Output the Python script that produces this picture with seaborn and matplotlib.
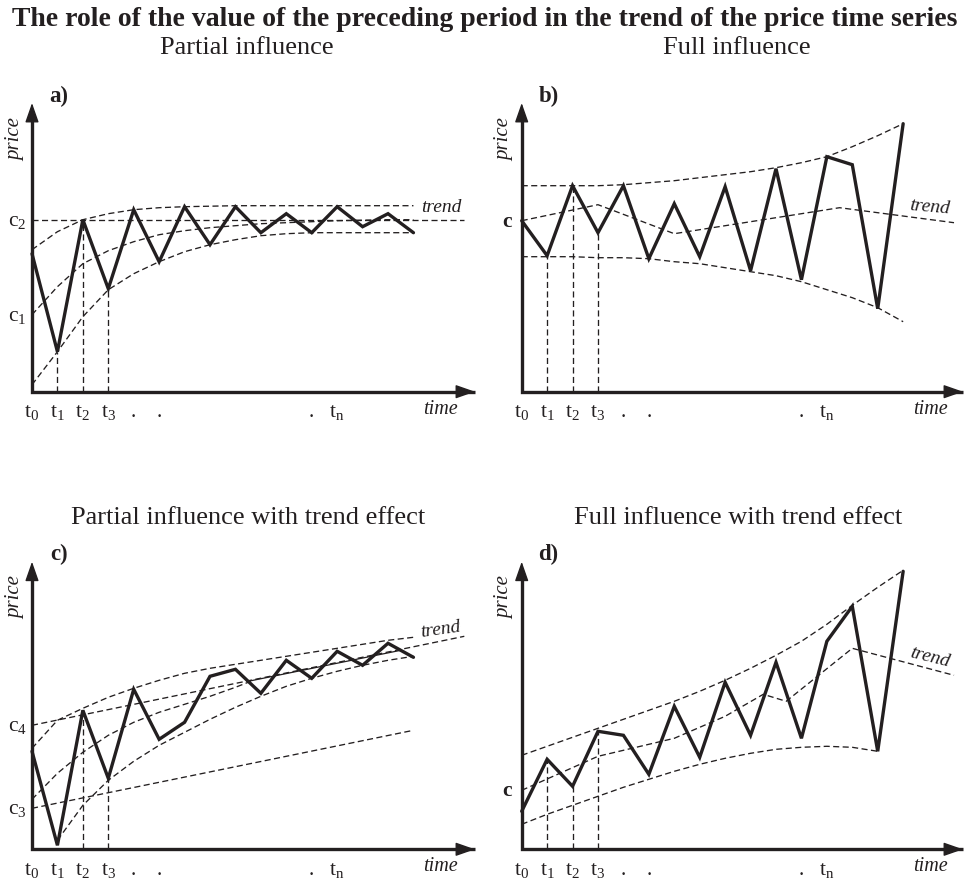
import matplotlib
matplotlib.use("Agg")
import matplotlib.pyplot as plt
import seaborn as sns

# ---------------- data (schematic values) ----------------
steps = list(range(16))                     # t0 ... t15
tick_pos = [0, 1, 2, 3, 4, 5, 11, 12]
tick_lab = ["t$_0$", "t$_1$", "t$_2$", "t$_3$", ".", ".", ".", "t$_\\mathrm{n}$"]

# a) Partial influence
a_price = [138, 40, 172, 103, 182, 130, 185, 147, 185, 159, 178, 159, 185, 165, 178, 159]
a_upper = [142, 160, 172, 178, 182, 184, 185, 185.5, 186, 186, 186, 186, 186, 186, 186, 186]
a_mid = [77, 105, 128, 141, 150, 157, 161, 164, 166, 168, 169, 170, 171, 171.5, 172, 172]
a_lower = [7, 40, 75, 102, 118, 130, 140, 147, 152, 156, 158, 159, 159, 159, 159, 159]
a_level_t = [0, 17]
a_level = [172, 172]
a_guides = [1, 2, 3]

# b) Full influence
b_price = [171, 136, 206, 159, 206, 133, 188, 135, 205, 121, 223, 112, 235, 227, 83, 268]
b_upper = [206, 206, 206, 206, 207, 209, 211, 214, 217, 220, 224, 229, 235, 245, 256, 268]
b_lower = [135, 135, 135, 134, 134, 133, 130, 128, 124, 120, 116, 110, 102, 94, 84, 70]
b_trend_t = [0, 3, 6, 12.5, 17]
b_trend = [171, 187, 158, 184, 169]
b_guides = [1, 2, 3]

# c) Partial influence with trend effect
c_price = [98, 4, 139, 71, 160, 110, 127, 173, 180, 156, 189, 171, 198, 184, 206, 192]
c_upper = [101, 129, 141, 152, 161, 169, 176, 181, 185, 189, 193, 197, 201, 205, 209, 212]
c_lower_t = list(range(1, 16))
c_lower = [9, 44, 69, 88, 104, 117, 130, 142, 153, 163, 171, 178, 184, 189, 193]
c_mid_t = [0, 1, 2, 3, 4, 5, 6, 7, 8, 8.6]
c_mid = [50, 76, 97, 114, 127, 137, 145, 153, 162, 168]
c_trend_t = [0, 17]
c_trend = [124, 213]
c_solid_t = [8.6, 14.5]
c_solid = [168.5, 199]
c_base_t = [0, 15]
c_base = [41, 119]
c_guides = [2, 3]

# d) Full influence with trend effect
d_price = [38, 90, 63, 118, 114, 75, 143, 92, 167, 114, 187, 111, 208, 243, 98, 278]
d_upper = [94, 103, 112, 121, 130, 139, 148, 158, 169, 181, 194, 208, 225, 244, 262, 279]
d_lower_t = list(range(0, 15))
d_lower = [25, 35, 44, 53, 62, 70, 78, 85, 91, 96, 100, 102, 103, 102, 98]
d_trend_t = [0, 3, 6, 8, 9.5, 10.4, 13, 17]
d_trend = [59, 93, 111, 133, 155, 148, 201, 174]
d_guides = [1, 2, 3]

# ---------------- style ----------------
sns.set_style("white")
plt.rcParams["font.family"] = ["Liberation Serif", "DejaVu Serif"]
plt.rcParams["mathtext.fontset"] = "custom"
plt.rcParams["mathtext.rm"] = "Liberation Serif"
plt.rcParams["mathtext.it"] = "Liberation Serif:italic"
plt.rcParams["mathtext.bf"] = "Liberation Serif:bold"

INK = "#231f20"
W, H = 969, 882
STEP = 25.43
DASH = (0, (4.6, 2.6))

fig = plt.figure(figsize=(W / 100, H / 100), dpi=100)
fig.patch.set_facecolor("white")


def make_ax(ox, oy, right, top):
    ax = fig.add_axes([ox / W, 1 - oy / H, (right - ox) / W, (oy - top) / H])
    ax.set_xlim(0, (right - ox) / STEP)
    ax.set_ylim(0, oy - top)
    ax.axis("off")
    ax.plot([0, 0, 1], [0.965, 0, 0], transform=ax.transAxes, color=INK, lw=2.4,
            solid_joinstyle="miter", solid_capstyle="butt", clip_on=False)
    hs = "-|>,head_length=1.0,head_width=0.35"
    ax.annotate("", xy=(0, 1), xytext=(0, 0.94), xycoords="axes fraction",
                arrowprops=dict(arrowstyle=hs, lw=1.0, color=INK, shrinkA=0, shrinkB=0,
                                mutation_scale=12))
    ax.annotate("", xy=(1, 0), xytext=(0.94, 0), xycoords="axes fraction",
                arrowprops=dict(arrowstyle=hs, lw=1.0, color=INK, shrinkA=0, shrinkB=0,
                                mutation_scale=12))
    return ax


def draw(ax, x, y, kind):
    if kind == "solid":
        kw = dict(linewidth=2.4, linestyle="-")
    elif kind == "thin":
        kw = dict(linewidth=0.9, linestyle="-")
    else:
        kw = dict(linewidth=0.95, linestyle=DASH)
    sns.lineplot(x=x, y=y, ax=ax, color=INK, sort=False, estimator=None,
                 clip_on=False, legend=False, solid_joinstyle="miter", **kw)


def guides(ax, idx, price):
    for i in idx:
        ax.vlines(i, 0, price[i], colors=INK, linewidth=0.95, linestyles=DASH)


def labels(ax, letter, trend_xy, trend_rot, levels):
    for p, s in zip(tick_pos, tick_lab):
        ax.text(p, -25.5, s, ha="center", va="baseline", fontsize=15.5, color=INK,
                clip_on=False)
    ax.text(16.08, -22, "time", ha="center", va="baseline", fontsize=14.5,
            style="italic", color=INK, clip_on=False)
    ax.text(-16.5 / STEP, 252, "price", rotation=90, ha="center", va="center",
            fontsize=15, style="italic", color=INK, clip_on=False)
    ax.text(1.05, 295, letter, ha="center", va="center", fontsize=16.5,
            weight="bold", color=INK, clip_on=False)
    ax.text(trend_xy[0], trend_xy[1], "trend", ha="center", va="center",
            rotation=trend_rot, fontsize=14, style="italic", color=INK, clip_on=False)
    for lev, s, bold in levels:
        ax.text(-14.5 / STEP, lev - 6, s, ha="center", va="baseline", fontsize=15.5,
                weight="bold" if bold else "normal", color=INK, clip_on=False)


# ---------- a) ----------
axa = make_ax(32, 391.7, 475, 103)
draw(axa, a_level_t, a_level, "dash")
draw(axa, steps, a_upper, "dash")
draw(axa, steps, a_mid, "dash")
draw(axa, steps, a_lower, "dash")
guides(axa, a_guides, a_price)
draw(axa, steps, a_price, "solid")
labels(axa, "a)", (16.1, 184), 0, [(172, "c$_2$", False), (76.5, "c$_1$", False)])

# ---------- b) ----------
axb = make_ax(521.7, 391.7, 963, 103)
draw(axb, steps, b_upper, "dash")
draw(axb, steps, b_lower, "dash")
draw(axb, b_trend_t, b_trend, "dash")
guides(axb, b_guides, b_price)
draw(axb, steps, b_price, "solid")
labels(axb, "b)", (16.05, 184), -5, [(171, "c", True)])

# ---------- c) ----------
axc = make_ax(32, 849.3, 475, 561.7)
draw(axc, c_trend_t, c_trend, "dash")
draw(axc, steps, c_upper, "dash")
draw(axc, c_mid_t, c_mid, "dash")
draw(axc, c_solid_t, c_solid, "thin")
draw(axc, c_lower_t, c_lower, "dash")
draw(axc, c_base_t, c_base, "dash")
guides(axc, c_guides, c_price)
draw(axc, steps, c_price, "solid")
labels(axc, "c)", (16.05, 220), 8, [(124, "c$_4$", False), (41, "c$_3$", False)])

# ---------- d) ----------
axd = make_ax(521.7, 849.3, 963, 561.7)
draw(axd, steps, d_upper, "dash")
draw(axd, d_trend_t, d_trend, "dash")
draw(axd, d_lower_t, d_lower, "dash")
guides(axd, d_guides, d_price)
draw(axd, steps, d_price, "solid")
labels(axd, "d)", (16.05, 192), -14, [(59, "c", True)])

# ---------- titles ----------
fig.text(0.5, 1 - 19 / H,
         "The role of the value of the preceding period in the trend of the price time series",
         ha="center", va="center", fontsize=20, weight="bold", color=INK)
for cx, cy, s in [(247, 48, "Partial influence"), (737, 48, "Full influence"),
                  (248, 518, "Partial influence with trend effect"),
                  (738, 518, "Full influence with trend effect")]:
    fig.text(cx / W, 1 - cy / H, s, ha="center", va="center", fontsize=19, color=INK)

fig.savefig("out.png", dpi=100, facecolor="white")
